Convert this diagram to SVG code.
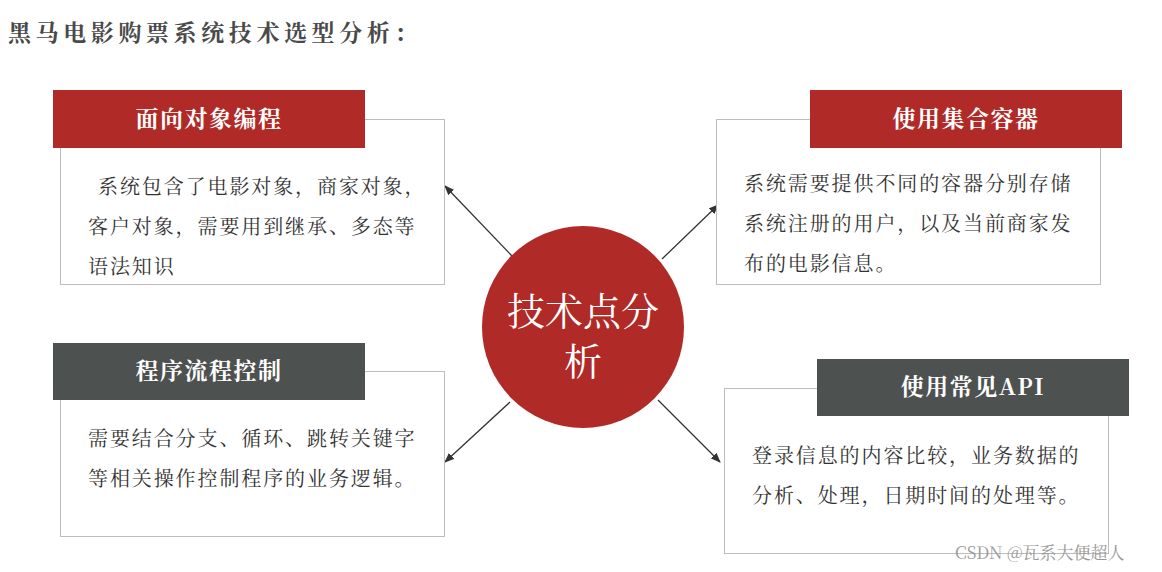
<svg xmlns="http://www.w3.org/2000/svg" width="1162" height="572" viewBox="0 0 1162 572">
<style>
text{font-family:"Noto Serif CJK SC","Noto Sans CJK SC",serif}
.title{font-size:23px;letter-spacing:4.6px;font-weight:bold;fill:#4a4a4a}
.body{fill:#fff;stroke:#bdbdbd;stroke-width:1}
.red{fill:#b02a27}
.dark{fill:#4d5150}
.ht{fill:#fff;font-size:23px;letter-spacing:1.5px;font-weight:bold;text-anchor:middle}
.bt{fill:#333;font-size:20px;letter-spacing:1.9px}
.con{stroke:#333;stroke-width:1.3;fill:none;marker-end:url(#ah)}
</style>
<defs><marker id="ah" markerWidth="10" markerHeight="8" refX="9" refY="4" orient="auto" markerUnits="userSpaceOnUse"><path d="M0,0 L10,4 L0,8 Z" fill="#333"/></marker></defs>
<rect width="1162" height="572" fill="#fff"/>
<text class="title" x="8" y="41">黑马电影购票系统技术选型分析：</text>
<g id="connectors">
<line class="con" x1="512" y1="256" x2="445" y2="186"/>
<line class="con" x1="662" y1="259" x2="718" y2="205"/>
<line class="con" x1="510" y1="402" x2="445" y2="462"/>
<line class="con" x1="658" y1="400" x2="720" y2="462"/>
</g>
<g id="n1">
<rect class="body" x="60.5" y="119.5" width="384" height="165"/>
<rect class="red" x="53" y="90" width="312" height="58"/>
<text class="ht" x="209" y="127">面向对象编程</text>
<text class="bt" x="98" y="194">系统包含了电影对象，商家对象，</text>
<text class="bt" x="88" y="234">客户对象，需要用到继承、多态等</text>
<text class="bt" x="88" y="274">语法知识</text>
</g>
<g id="n2">
<rect class="body" x="716.5" y="119.5" width="384" height="165"/>
<rect class="red" x="810" y="90" width="312" height="58"/>
<text class="ht" x="966" y="127">使用集合容器</text>
<text class="bt" x="744" y="191">系统需要提供不同的容器分别存储</text>
<text class="bt" x="744" y="231">系统注册的用户，以及当前商家发</text>
<text class="bt" x="744" y="271">布的电影信息。</text>
</g>
<g id="n3">
<rect class="body" x="60.5" y="371.5" width="384" height="165"/>
<rect class="dark" x="53" y="343" width="312" height="57"/>
<text class="ht" x="209" y="379">程序流程控制</text>
<text class="bt" x="88" y="446">需要结合分支、循环、跳转关键字</text>
<text class="bt" x="88" y="486">等相关操作控制程序的业务逻辑。</text>
</g>
<g id="n4">
<rect class="body" x="724.5" y="388.5" width="384" height="165"/>
<rect class="dark" x="817" y="359" width="312" height="57"/>
<text class="ht" x="973" y="395">使用常见API</text>
<text class="bt" x="752" y="463">登录信息的内容比较，业务数据的</text>
<text class="bt" x="752" y="503">分析、处理，日期时间的处理等。</text>
</g>
<g id="center">
<circle cx="583" cy="327" r="101" fill="#b02a27"/>
<text x="583" y="325" fill="#fff" font-size="38" text-anchor="middle">技术点分</text>
<text x="583" y="375" fill="#fff" font-size="38" text-anchor="middle">析</text>
</g>
<text x="955" y="559" fill="#999" font-size="17" font-family="Noto Sans CJK SC,sans-serif">CSDN @瓦系大便超人</text>
</svg>
